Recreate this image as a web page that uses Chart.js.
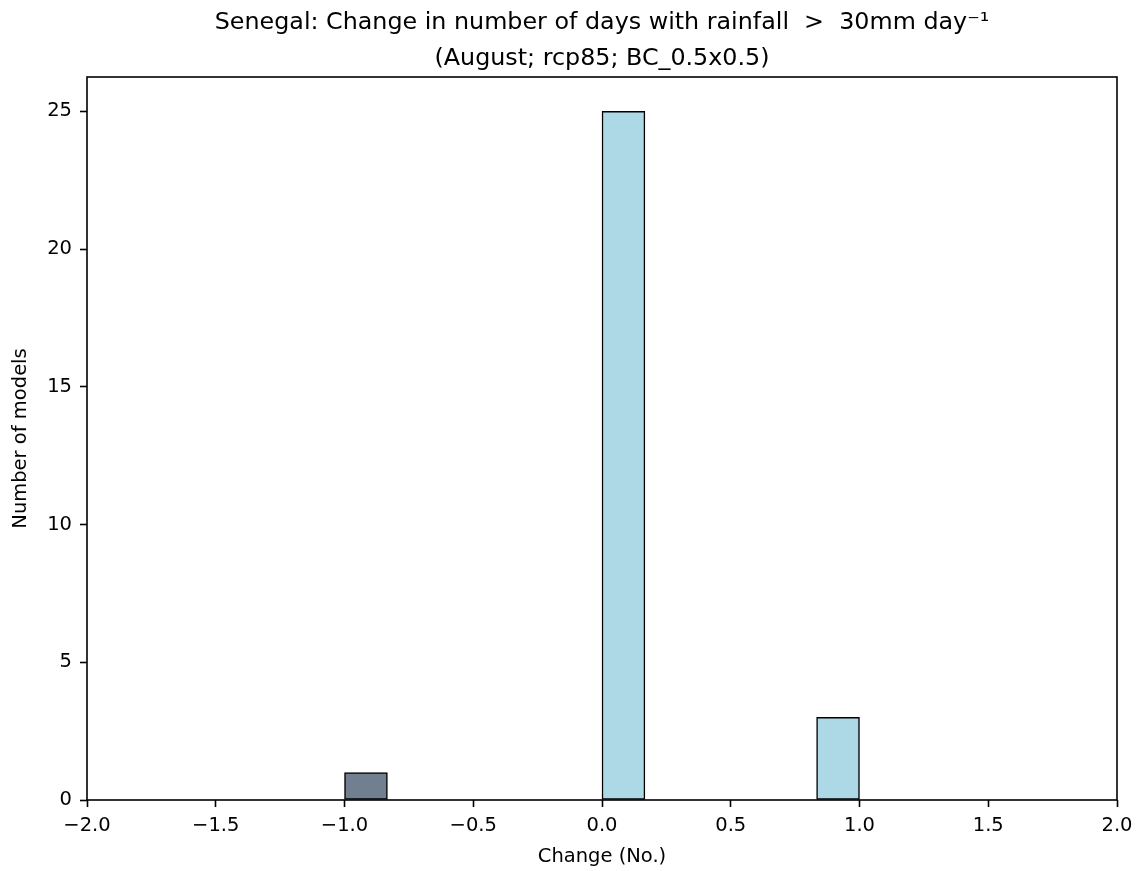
<!DOCTYPE html>
<html>
<head>
<meta charset="utf-8">
<script src="https://cdn.jsdelivr.net/npm/chart.js@4/dist/chart.umd.min.js"></script>
<style>
  html, body { margin: 0; padding: 0; background: #fff; }
  #wrap { width: 1140px; height: 871px; }
</style>
</head>
<body>
<div id="wrap"><canvas id="c" width="1140" height="871"></canvas></div>
<script>
// ---- data ----
const titleLines = [
  "Senegal: Change in number of days with rainfall  >  30mm day\u207B\u00B9",
  "(August; rcp85; BC_0.5x0.5)"
];
const xLabel = "Change (No.)";
const yLabel = "Number of models";
const binEdges = [-1.0, -0.8333, -0.6667, -0.5, -0.3333, -0.1667, 0.0, 0.1667, 0.3333, 0.5, 0.6667, 0.8333, 1.0];
const counts   = [1, 0, 0, 0, 0, 0, 25, 0, 0, 0, 0, 3];
const xTicks = [-2.0, -1.5, -1.0, -0.5, 0.0, 0.5, 1.0, 1.5, 2.0];
const yTicks = [0, 5, 10, 15, 20, 25];
const negColor = "#708090";
const posColor = "#ADD8E6";

// ---- build ----
const points = counts.map((c, i) => ({ x: (binEdges[i] + binEdges[i + 1]) / 2, y: c }));
const colors = points.map(p => p.x < 0 ? negColor : posColor);
const fmt = v => (v < 0 ? "\u2212" : "") + Math.abs(v).toFixed(1);

const frame = {
  id: "frame",
  afterDatasetsDraw(chart) {
    const a = chart.chartArea, ctx = chart.ctx;
    ctx.save();
    ctx.strokeStyle = "#000";
    ctx.lineWidth = 1.6;
    ctx.strokeRect(a.left, a.top, a.right - a.left, a.bottom - a.top);
    ctx.restore();
  }
};

Chart.defaults.font.family = "'DejaVu Sans', sans-serif";
Chart.defaults.color = "#000";

new Chart(document.getElementById("c"), {
  type: "bar",
  data: {
    datasets: [{
      data: points,
      backgroundColor: colors,
      borderColor: "#000",
      borderWidth: 1.5,
      borderSkipped: false,
      barPercentage: 1.0,
      categoryPercentage: 1.0,
      grouped: false
    }]
  },
  plugins: [frame],
  options: {
    responsive: false,
    animation: false,
    layout: { padding: { left: 0, right: 23, top: 0, bottom: 0 } },
    plugins: {
      legend: { display: false },
      tooltip: { enabled: false },
      title: {
        display: true,
        fullSize: false,
        text: titleLines,
        color: "#000",
        font: { size: 23.8, weight: "normal", lineHeight: "36px" },
        padding: { top: 5, bottom: 0 }
      }
    },
    scales: {
      x: {
        type: "linear",
        min: -2, max: 2,
        offset: false,
        afterFit(s) { s.height = 71; },
        afterBuildTicks(s) { s.ticks = xTicks.map(v => ({ value: v })); },
        ticks: { font: { size: 19.5 }, padding: 7, maxRotation: 0, autoSkip: false, callback: v => fmt(v) },
        grid: { display: true, drawOnChartArea: false, drawTicks: true, tickLength: 7, tickWidth: 1.6, tickColor: "#000", offset: false },
        border: { display: false },
        title: { display: true, text: xLabel, font: { size: 19.5 }, padding: { top: 0, bottom: 2 } }
      },
      y: {
        type: "linear",
        min: 0, max: 26.25,
        afterFit(s) { s.width = 87; },
        afterBuildTicks(s) { s.ticks = yTicks.map(v => ({ value: v })); },
        ticks: { font: { size: 19.5 }, padding: 8, autoSkip: false, callback: v => String(v) },
        grid: { display: true, drawOnChartArea: false, drawTicks: true, tickLength: 7, tickWidth: 1.6, tickColor: "#000" },
        border: { display: false },
        title: { display: true, text: yLabel, font: { size: 19.5 }, padding: { top: 9, bottom: 0 } }
      }
    }
  }
});
</script>
</body>
</html>
